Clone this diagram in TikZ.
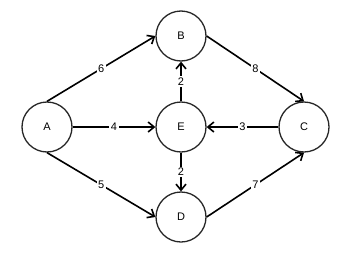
\documentclass[tikz,border=0pt]{standalone}
\usepackage{fontspec}
\setmainfont{Liberation Sans}
\usetikzlibrary{arrows.meta}
\begin{document}
\begin{tikzpicture}[x=1pt,y=-1pt,
  vtx/.style={circle,draw,line width=1.3pt,draw=black!85,minimum size=50pt,inner sep=0pt,font=\fontsize{11}{13}\selectfont},
  edge/.style={line width=1.6pt,-{Straight Barb[length=6pt,width=10pt,line width=1.6pt]}},
  wt/.style={fill=white,inner sep=1.5pt,font=\fontsize{11}{13}\selectfont}]
\useasboundingbox (0,0) rectangle (350,260);
\node[vtx] (A) at (47,127) {A};
\node[vtx] (B) at (181,36) {B};
\node[vtx] (E) at (181,127) {E};
\node[vtx] (C) at (304,127) {C};
\node[vtx] (D) at (181,217) {D};
\draw[edge] (A.north) -- node[wt] {6} (B.west);
\draw[edge] (A.south) -- node[wt] {5} (D.west);
\draw[edge] (A.east) -- node[wt] {4} (E.west);
\draw[edge] (C.west) -- node[wt] {3} (E.east);
\draw[edge] (E.north) -- node[wt] {2} (B.south);
\draw[edge] (E.south) -- node[wt] {2} (D.north);
\draw[edge] (B.east) -- node[wt] {8} (C.north);
\draw[edge] (D.east) -- node[wt] {7} (C.south);
\end{tikzpicture}
\end{document}
